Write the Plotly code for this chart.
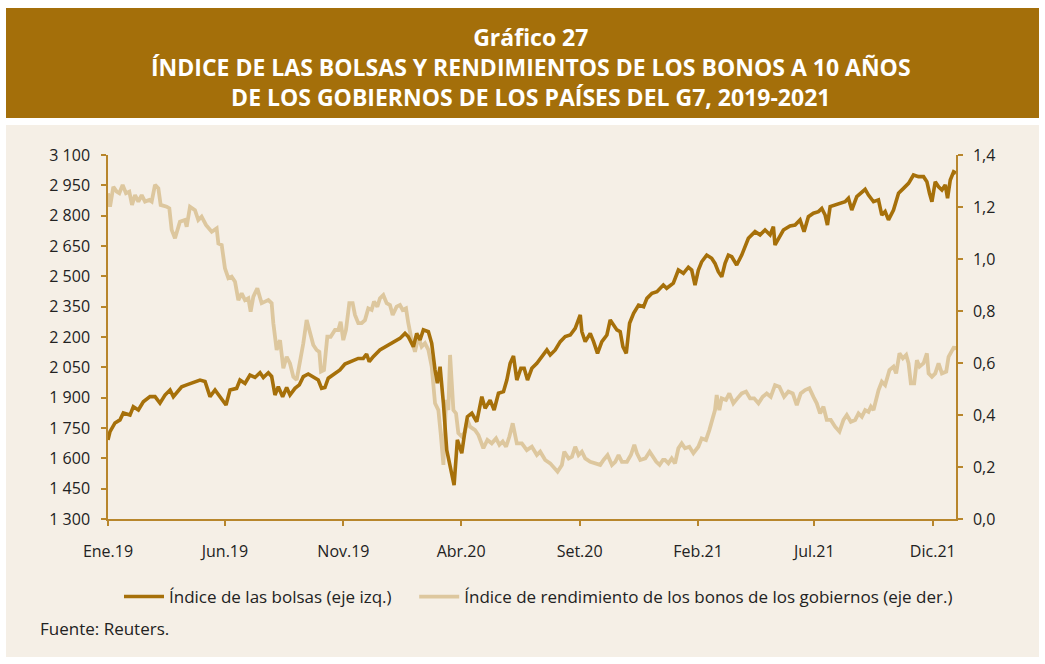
import pandas as pd
import plotly.graph_objects as go

# ---------------- data ----------------
# days since 2019-01-01 and index levels (left axis)
stock_days = [0, 2.6, 9, 15.5, 19.8, 28.4, 32.7, 39.2, 45.6, 54.2, 60.7, 67.1, 73.6, 80.1, 84.4, 95.1,
              101.6, 110.2, 118.8, 125.3, 131.7, 138.2, 144.6, 152.4, 157.5, 166.1, 170.4, 176.9, 183.3,
              189.8, 196.3, 200.6, 207, 211.3, 215.6, 219.9, 225.5, 230.7, 235, 241.4, 247, 252.2, 258.6,
              265.1, 271.5, 275.8, 280.1, 284.4, 290.9, 299.5, 305.9, 316.7, 323.1, 329.6, 333.9, 337.3,
              342.5, 351.1, 361.9, 368.4, 377, 383.5, 387.8, 394.3, 398.6, 402.9, 407.2, 413.7, 418, 422.3,
              425.3, 428.8, 433.1, 437.4, 441.7, 446.9, 451.1, 456.8, 461.1, 464.1, 469.8, 476.2, 482.7,
              487, 493.4, 498.6, 504.2, 510.7, 515, 519.3, 523.6, 527.9, 533.1, 537.4, 541.7, 547.3, 553.8,
              560.2, 566.7, 571, 577.5, 584, 590.4, 596.9, 603.3, 609.8, 611.9, 616.2, 622.7, 627, 632.1,
              637.7, 644.2, 648.5, 652.8, 657.1, 661.4, 664.9, 669.2, 673.5, 678.7, 685.1, 691.6, 695.9,
              702.4, 708.8, 717.1, 721.4, 730, 736.5, 743, 749.4, 753.7, 758, 762.3, 766.6, 773.1, 779.5,
              783.8, 788.1, 792.5, 796.8, 801.1, 805.4, 811.8, 818.3, 826.9, 835.5, 842, 848.4, 854.9,
              859.2, 861.3, 865.6, 872.1, 880.7, 887.2, 893.6, 898.8, 904.4, 910.9, 917.4, 921.7, 926, 929,
              932.5, 938.9, 945.4, 951.8, 956.1, 960.4, 966.9, 973.4, 977.7, 982, 988.5, 994.9, 999.2,
              1003.5, 1007.8, 1014.3, 1020.8, 1027.2, 1033.7, 1040.1, 1046.6, 1053.1, 1057.4, 1060.8,
              1063.9, 1068.2, 1072.5, 1076.8, 1081.1, 1084.1, 1087.6, 1091.9, 1095]
stock_vals = [1691, 1732, 1775, 1790, 1824, 1814, 1855, 1839, 1880, 1905, 1905, 1873, 1913, 1938, 1905, 1954,
              1963, 1974, 1987, 1980, 1905, 1938, 1905, 1864, 1938, 1946, 1987, 1970, 2012,
              2000, 2023, 2000, 2023, 2005, 1913, 1954, 1905, 1950, 1913, 1946, 1963, 2004, 2017,
              2004, 1987, 1946, 1950, 1996, 2012, 2037, 2066, 2081, 2094, 2094, 2116, 2078,
              2103, 2136, 2160, 2172, 2193, 2218, 2201, 2152, 2218, 2185, 2235, 2226, 2169, 2037,
              1971, 2053, 1872, 1641, 1559, 1468, 1691, 1625, 1740, 1806, 1823, 1781, 1905,
              1847, 1888, 1839, 1922, 1930, 1987, 2070, 2106, 1987, 2045, 2045, 1987, 2045, 2070,
              2103, 2136, 2111, 2136, 2177, 2202, 2210, 2243, 2309, 2226, 2177, 2218, 2177, 2119,
              2177, 2210, 2284, 2260, 2235, 2226, 2152, 2119, 2268, 2317, 2358, 2350, 2391,
              2416, 2424, 2457, 2441, 2466, 2531, 2515, 2545, 2531, 2457, 2531, 2572, 2605, 2589,
              2564, 2523, 2498, 2564, 2605, 2597, 2556, 2605, 2688, 2721, 2705, 2729, 2705,
              2746, 2655, 2688, 2729, 2749, 2754, 2779, 2721, 2795, 2812, 2820, 2836, 2803, 2754,
              2845, 2853, 2861, 2869, 2886, 2828, 2894, 2919, 2930, 2902, 2869, 2878, 2803,
              2820, 2779, 2828, 2911, 2935, 2960, 3001, 2993, 2993, 2968, 2911,
              2869, 2968, 2943, 2927, 2952, 2886, 2976, 3017, 3010]

# days since 2019-01-01 and yield index (right axis)
bond_days = [0, 2.6, 6.9, 11.2, 14.6, 18.9, 23.2, 27.5, 31, 34.9, 39.2, 43.5, 47.8, 53.4, 56.4, 60.7, 65, 68,
             75.8, 79.2, 82.2, 86.5, 92.9, 99.4, 101.6, 105.9, 112.3, 116.6, 120.9, 126.5, 133.9, 140.3,
             142.5, 146.8, 151, 155.4, 159.7, 164, 168.3, 172.6, 176.9, 181.2, 184.2, 187.7, 192.8, 198.4,
             202.7, 207, 211.3, 213.5, 217.8, 222.1, 226.4, 230.7, 235, 239.3, 243.6, 247.9, 252.2, 256.5,
             260.8, 265.1, 269.4, 272.9, 275, 278.9, 283.2, 287.5, 293.1, 297.4, 300.4, 303.8, 307.3,
             311.6, 315.9, 318.9, 323.2, 327.5, 331.8, 336.1, 340.4, 343.5, 347.8, 351.2, 355.5, 359.8,
             364.1, 367.6, 372.7, 377, 380.5, 384.8, 387.8, 392.1, 396.4, 400.7, 405, 409.3, 413.7, 418,
             422.3, 426.6, 429.6, 433.1, 436.5, 439.5, 441.7, 443.8, 446, 449.4, 452.4, 456.8, 461.1,
             464.1, 467.5, 474, 478.3, 484.7, 489.9, 495.5, 501.1, 505.4, 509.7, 514, 518.3, 522.6,
             527.9, 534.4, 540.8, 547.3, 553.8, 558.1, 564.5, 571, 576.2, 580.5, 586.1, 589.2, 594.8,
             599.1, 603.3, 607.6, 611.9, 616.2, 622.7, 629.1, 635.6, 639.9, 645.1, 650.7, 655, 659.3,
             663.6, 670.1, 675.2, 679.6, 683, 687.3, 693.8, 699.4, 703.7, 708, 712.3, 716.6, 719.2,
             723.6, 727.9, 732.2, 736.5, 740.8, 745.1, 750.7, 755.9, 762.3, 766.6, 772.2, 776.5, 780.8,
             783.8, 786, 789.4, 792.5, 798, 802.3, 807.5, 812.7, 818.3, 823.9, 829.1, 834.3, 839.9,
             845.4, 850.6, 855.8, 861.3, 866.9, 873, 878.6, 884.2, 889.4, 894.5, 900.1, 905.7, 910.9,
             915.2, 919.5, 923.8, 928.1, 933.3, 938.9, 944.5, 949.7, 954, 959.2, 964.8, 969.1, 973.4,
             977.7, 982, 985.1, 988.5, 995, 999.2, 1003.5, 1009.1, 1014.3, 1017.7, 1022, 1026.4, 1030.7,
             1033.7, 1036.7, 1041, 1044.5, 1047.9, 1053.1, 1057.4, 1059.6, 1063.9, 1068.2, 1072.5,
             1076.8, 1082.4, 1085.4, 1089.7, 1092.7, 1094.5]
bond_vals = [1.253, 1.201, 1.278, 1.259, 1.253, 1.285, 1.253, 1.259, 1.208, 1.246, 1.221, 1.246, 1.221, 1.227,
             1.221, 1.285, 1.272, 1.208, 1.201, 1.195, 1.112, 1.080, 1.143, 1.150, 1.124, 1.201, 1.188,
             1.150, 1.163, 1.131, 1.105, 1.118, 1.060, 1.054, 0.964, 0.926, 0.932, 0.913, 0.842, 0.868,
             0.842, 0.849, 0.797, 0.855, 0.887, 0.830, 0.836, 0.842, 0.830, 0.753, 0.650, 0.688, 0.580,
             0.624, 0.598, 0.547, 0.535, 0.598, 0.676, 0.765, 0.714, 0.669, 0.650, 0.643, 0.567, 0.573,
             0.701, 0.701, 0.727, 0.727, 0.759, 0.688, 0.727, 0.830, 0.830, 0.785, 0.753, 0.753, 0.765,
             0.810, 0.804, 0.836, 0.817, 0.849, 0.861, 0.830, 0.823, 0.785, 0.817, 0.823, 0.804, 0.810,
             0.753, 0.688, 0.643, 0.701, 0.663, 0.676, 0.650, 0.586, 0.445, 0.419, 0.330, 0.208, 0.458,
             0.419, 0.631, 0.522, 0.419, 0.406, 0.330, 0.317, 0.336, 0.381, 0.355, 0.342, 0.323, 0.272,
             0.304, 0.291, 0.310, 0.285, 0.298, 0.278, 0.317, 0.368, 0.291, 0.291, 0.265, 0.278, 0.246,
             0.259, 0.227, 0.214, 0.195, 0.182, 0.208, 0.259, 0.233, 0.240, 0.278, 0.246, 0.259, 0.233,
             0.220, 0.214, 0.208, 0.227, 0.246, 0.208, 0.220, 0.246, 0.220, 0.220, 0.246, 0.285, 0.253,
             0.227, 0.233, 0.259, 0.240, 0.220, 0.208, 0.227, 0.227, 0.214, 0.233, 0.214, 0.272, 0.291,
             0.272, 0.278, 0.253, 0.278, 0.310, 0.304, 0.342, 0.393, 0.419, 0.477, 0.419, 0.464, 0.458,
             0.483, 0.445, 0.464, 0.483, 0.490, 0.464, 0.464, 0.445, 0.470, 0.483, 0.470, 0.515, 0.509,
             0.470, 0.490, 0.483, 0.438, 0.483, 0.496, 0.503, 0.470, 0.445, 0.406, 0.432, 0.381, 0.381,
             0.355, 0.336, 0.381, 0.400, 0.374, 0.381, 0.406, 0.393, 0.419, 0.412, 0.432, 0.419, 0.496,
             0.528, 0.515, 0.573, 0.586, 0.560, 0.637, 0.618, 0.631, 0.599, 0.522, 0.522, 0.611, 0.586,
             0.599, 0.637, 0.560, 0.547, 0.560, 0.599, 0.560, 0.567, 0.624, 0.644, 0.663, 0.650]

tick_dates = ["2019-01-01", "2019-06-01", "2019-11-01", "2020-04-01",
              "2020-09-01", "2021-02-01", "2021-07-01", "2021-12-01"]
tick_labels = ["Ene.19", "Jun.19", "Nov.19", "Abr.20", "Set.20", "Feb.21", "Jul.21", "Dic.21"]

stock_name = "Índice de las bolsas (eje izq.)"
bond_name = "Índice de rendimiento de los bonos de los gobiernos (eje der.)"
title_lines = ["Gráfico 27",
               "ÍNDICE DE LAS BOLSAS Y RENDIMIENTOS DE LOS BONOS A 10 AÑOS",
               "DE LOS GOBIERNOS DE LOS PAÍSES DEL G7, 2019-2021"]
source_text = "Fuente: Reuters."

# ---------------- build ----------------
base = pd.Timestamp("2019-01-01")
stock_x = base + pd.to_timedelta(stock_days, unit="D")
bond_x = base + pd.to_timedelta(bond_days, unit="D")

DARK = "#A6700A"
LIGHT = "#DDC79E"
AXIS = "#B8862C"
BG = "#F5EFE6"
BAND = "#A46F0A"
FONT = "Open Sans, Noto Sans, DejaVu Sans, sans-serif"

W, H = 1045, 664
L, R, T, B = 108, 956, 155, 519
pw, ph = R - L, B - T


def px(x):
    return (x - L) / pw


def py(y):
    return (B - y) / ph


# a little trailing room after the first legend entry (visual spacing only)
PAD = "\u00a0" * 4

fig = go.Figure()
fig.add_trace(go.Scatter(x=bond_x, y=bond_vals, name=bond_name, mode="lines",
                         line=dict(color=LIGHT, width=3.8), yaxis="y", legendrank=2))
fig.add_trace(go.Scatter(x=stock_x, y=stock_vals, name=stock_name + PAD, mode="lines",
                         line=dict(color=DARK, width=3.6), yaxis="y2", legendrank=1))

axis_common = dict(showgrid=False, zeroline=False, showline=True, linecolor=AXIS, linewidth=1.5,
                   ticks="outside", tickcolor=AXIS, ticklen=5, tickwidth=1.5,
                   tickfont=dict(family=FONT, size=16, color="#222222"))

fig.update_layout(
    width=W, height=H,
    margin=dict(l=L, r=W - R, t=T, b=H - B, pad=0),
    paper_bgcolor="white", plot_bgcolor=BG,
    separators=", ",
    showlegend=True,
    legend=dict(orientation="h", x=px(119), y=py(597), xanchor="left", yanchor="middle",
                bgcolor="rgba(0,0,0,0)", font=dict(family=FONT, size=17, color="#222222"),
                itemwidth=40, traceorder="normal"),
    xaxis=dict(type="date", range=["2019-01-01", "2021-12-31"], tickmode="array",
               tickvals=tick_dates, ticktext=tick_labels, ticklabelstandoff=12, **axis_common),
    yaxis=dict(side="right", range=[0, 1.4], tickmode="linear", tick0=0, dtick=0.2,
               tickformat=".1f", ticklabelstandoff=7, **axis_common),
    yaxis2=dict(side="left", overlaying="y", range=[1300, 3100], tickmode="linear", tick0=1300,
                dtick=150, tickformat=",d", ticklabelstandoff=8, **axis_common),
    shapes=[
        dict(type="rect", xref="paper", yref="paper", x0=px(6), x1=px(1039), y0=py(657), y1=py(125),
             fillcolor=BG, line=dict(width=0), layer="below"),
        dict(type="rect", xref="paper", yref="paper", x0=px(6), x1=px(1039), y0=py(118), y1=py(8),
             fillcolor=BAND, line=dict(width=0), layer="below"),
    ],
    annotations=[
        dict(text="<br>".join("<b>%s</b>" % t for t in title_lines), xref="paper", yref="paper",
             x=px(531), y=py(67), xanchor="center", yanchor="middle", showarrow=False,
             align="center", font=dict(family=FONT, size=23, color="white")),
        dict(text=source_text, xref="paper", yref="paper", x=px(38), y=py(628),
             xanchor="left", yanchor="middle", showarrow=False,
             font=dict(family=FONT, size=17, color="#222222")),
    ],
)

fig.write_html("out.html", config={"displayModeBar": False},
               post_script="document.body.style.margin='0';")
